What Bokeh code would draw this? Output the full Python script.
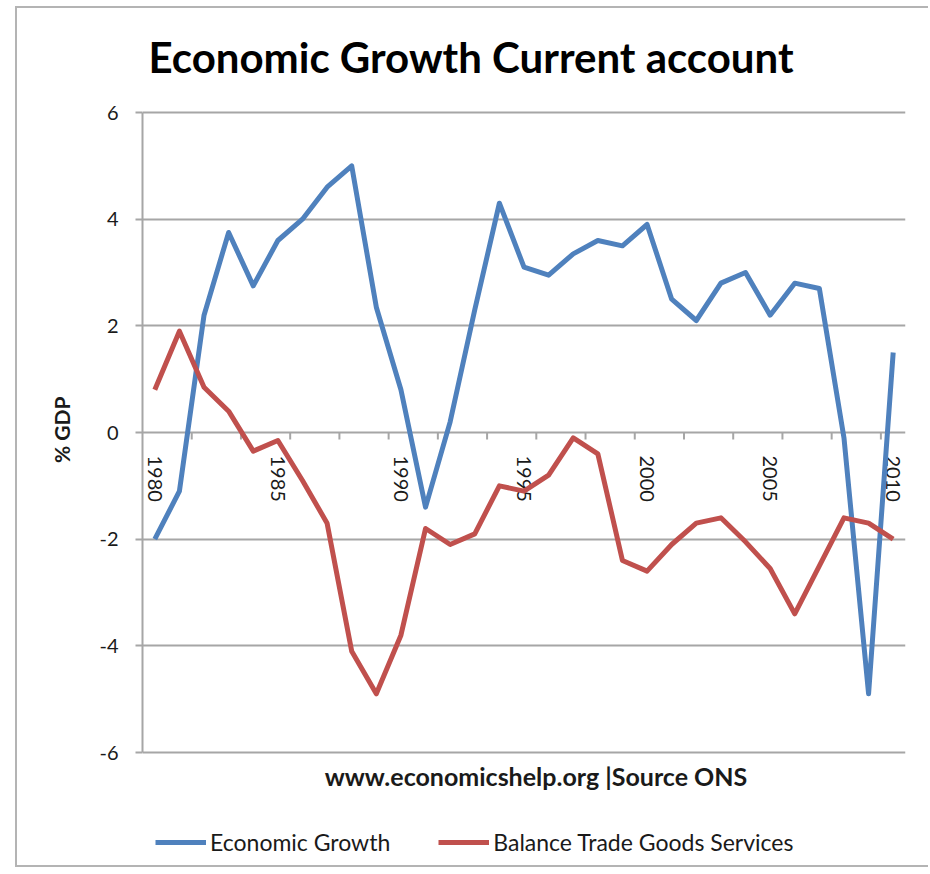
import math
from bokeh.plotting import figure
from bokeh.models import FixedTicker, Legend, LegendItem, Range1d, Title, Label
from bokeh.core.properties import value
from bokeh.embed import file_html
from bokeh.resources import INLINE

# ---- data ----
years = list(range(1980, 2011))
growth = [-2.0, -1.1, 2.2, 3.75, 2.75, 3.6, 4.0, 4.6, 5.0, 2.35, 0.8,
          -1.4, 0.2, 2.3, 4.3, 3.1, 2.95, 3.35, 3.6, 3.5, 3.9,
          2.5, 2.1, 2.8, 3.0, 2.2, 2.8, 2.7, -0.1, -4.9, 1.5]
balance = [0.8, 1.9, 0.85, 0.4, -0.35, -0.15, -0.9, -1.7, -4.1, -4.9, -3.8,
           -1.8, -2.1, -1.9, -1.0, -1.1, -0.8, -0.1, -0.4, -2.4, -2.6,
           -2.1, -1.7, -1.6, -2.05, -2.55, -3.4, -2.5, -1.6, -1.7, -2.0]
label_years = [1980, 1985, 1990, 1995, 2000, 2005, 2010]
y_ticks = [-6, -4, -2, 0, 2, 4, 6]
series_names = ["Economic Growth", "Balance Trade Goods Services"]
title_text = "Economic Growth Current account"
x_title = "www.economicshelp.org |Source ONS"
y_title = "% GDP"

# ---- style ----
BLUE = "#4f81bd"
RED = "#c0504d"
GRID = "#a6a6a6"
TXT = "#1a1a1a"
FONT = "Lato"

W, H = 913, 861
ML, MR = 125, 25
HEAD = 104              # room above the value area for the chart title
PLOT_H = 640            # pixel height of the -6..6 value area
FOOT = H - HEAD - PLOT_H  # room under the value area for axis title + legend
YLAB_LEN = 67           # approx. pixel length of the rotated y title

x0, x1 = years[0] - 0.5, years[-1] + 0.5
y_lo, y_hi = y_ticks[0], y_ticks[-1]
px_per_unit = PLOT_H / (y_hi - y_lo)
y_floor = y_lo - FOOT / px_per_unit
y_roof = y_hi + HEAD / px_per_unit

p = figure(width=W, height=H, output_backend="svg", toolbar_location=None,
           x_range=Range1d(x0, x1), y_range=Range1d(y_floor, y_roof),
           min_border_left=ML, min_border_right=MR,
           min_border_top=0, min_border_bottom=0)
p.title = None
p.styles = {"margin-left": "15px", "margin-top": "6px",
            "border-left": "2px solid #b4b4b4",
            "border-top": "2px solid #b4b4b4",
            "border-bottom": "2px solid #b4b4b4"}
p.outline_line_color = None
p.background_fill_color = "white"
p.border_fill_color = "white"

# chart title above the 6 line
p.add_layout(Label(x=x0, y=y_hi, x_offset=6, y_offset=56,
                   text=title_text, text_align="left", text_baseline="alphabetic",
                   text_font=FONT, text_font_size="42px", text_font_style="bold",
                   text_color="black"))

# grid
p.xgrid.visible = False
p.ygrid.ticker = FixedTicker(ticks=y_ticks)
p.ygrid.grid_line_color = GRID
p.ygrid.grid_line_width = 2

# y axis (drawn only over -6..6)
ya = p.yaxis[0]
ya.bounds = (y_lo, y_hi)
ya.ticker = FixedTicker(ticks=y_ticks)
ya.major_label_overrides = {t: str(t) for t in y_ticks}
ya.axis_line_color = GRID
ya.axis_line_width = 2
ya.major_tick_line_color = GRID
ya.major_tick_line_width = 2
ya.major_tick_out = 7
ya.major_tick_in = 0
ya.minor_tick_line_color = None
ya.major_label_standoff = 17
ya.major_label_text_font = FONT
ya.major_label_text_font_size = "20px"
ya.major_label_text_color = TXT

# y title, centred on the -6..6 span (not on the whole frame)
p.add_layout(Title(text=y_title, align="left",
                   offset=FOOT + PLOT_H / 2 - YLAB_LEN / 2 + 3, standoff=45,
                   text_font=FONT, text_font_size="21px", text_font_style="bold",
                   text_color=TXT), "left")

p.xaxis.visible = False

# category tick marks on the zero line (every second category boundary)
tick_len = 7 / px_per_unit
tick_x = [y - 0.5 for y in years[2::2]]
p.segment(x0=tick_x, y0=[0] * len(tick_x), x1=tick_x, y1=[-tick_len] * len(tick_x),
          line_color=GRID, line_width=2)

# category labels, rotated, hanging under the zero line
p.text(x=label_years, y=[0] * len(label_years), text=[str(v) for v in label_years],
       angle=-math.pi / 2, text_align="left", text_baseline="middle",
       y_offset=23, text_font=value(FONT), text_font_size="20px", text_color=TXT)

# series
r1 = p.line(years, growth, line_color=BLUE, line_width=5, line_join="round")
r2 = p.line(years, balance, line_color=RED, line_width=5, line_join="round")

# horizontal axis title under the -6 line
p.add_layout(Label(x=(x0 + x1) / 2, y=y_lo, x_offset=12, y_offset=-23,
                   text=x_title, text_align="center", text_baseline="middle",
                   text_font=FONT, text_font_size="25px", text_font_style="bold",
                   text_color=TXT))

# legend at the foot
legend = Legend(items=[LegendItem(label=series_names[0], renderers=[r1]),
                       LegendItem(label=series_names[1], renderers=[r2])],
                orientation="horizontal", location=(13, 13),
                glyph_width=51, glyph_height=20, label_standoff=4, spacing=48,
                padding=0, margin=0, border_line_color=None,
                background_fill_alpha=0,
                label_text_font=FONT, label_text_font_size="23px",
                label_text_color=TXT)
p.add_layout(legend, "center")

open("out.html", "w").write(file_html(p, INLINE))
